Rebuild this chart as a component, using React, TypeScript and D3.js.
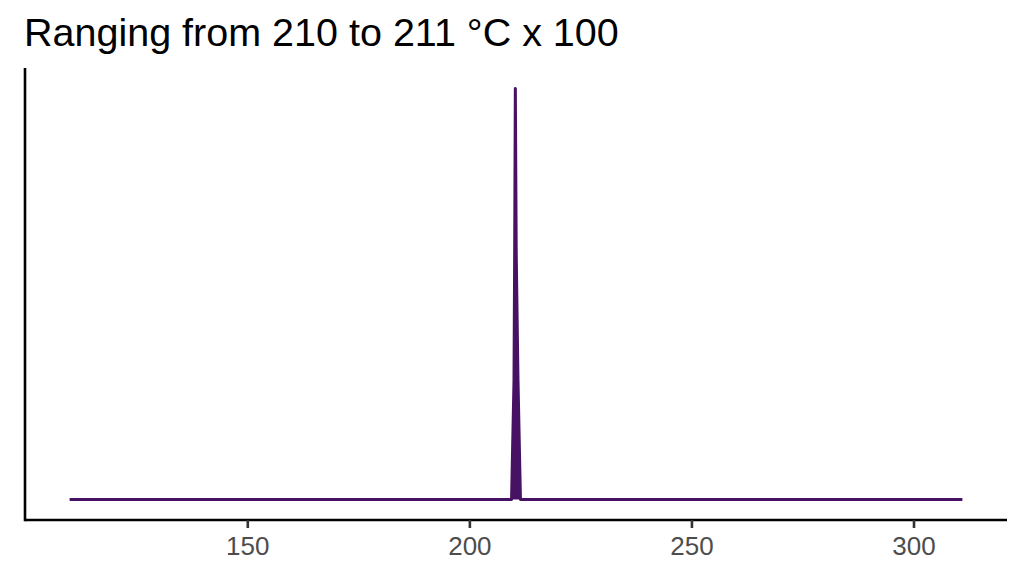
import React, { useEffect, useRef } from "react";
import * as d3 from "d3";

// density curve (x in °C, y relative density)
const densityX: number[] = [110, 209.5, 210.05, 210.2, 210.35, 210.55, 210.95, 211.5, 311];
const densityY: number[] = [0, 0, 0.29, 0.6, 1, 0.6, 0.29, 0, 0];
const xTicks: number[] = [150, 200, 250, 300];
const title = "Ranging from 210 to 211 °C x 100";

const width = 1024,
  height = 576;
const margin = { top: 68, right: 17, bottom: 56, left: 25 };
const lineColor = "#471164";

export default function App(): JSX.Element {
  const ref = useRef<SVGSVGElement>(null);

  useEffect(() => {
    if (!ref.current) return;
    const svg = d3.select(ref.current);
    svg.selectAll("*").remove();

    const panelBottom = height - margin.bottom;
    const panelRight = width - margin.right;

    const ext = d3.extent(densityX) as [number, number];
    const span = ext[1] - ext[0];
    const x = d3
      .scaleLinear()
      .domain([ext[0] - span * 0.05, ext[1] + span * 0.05])
      .range([margin.left, panelRight]);

    const yMax = d3.max(densityY) as number;
    const y = d3
      .scaleLinear()
      .domain([-yMax * 0.05, yMax * 1.05])
      .range([panelBottom, margin.top]);

    svg
      .append("text")
      .attr("x", 24)
      .attr("y", 46)
      .attr("font-family", "Liberation Sans, Arial, sans-serif")
      .attr("font-size", 39.5)
      .attr("fill", "#000")
      .text(title);

    const pts = densityX.map((d, i) => [d, densityY[i]] as [number, number]);

    const area = d3
      .area<[number, number]>()
      .x((d) => x(d[0]))
      .y0(y(0))
      .y1((d) => y(d[1]));
    const line = d3
      .line<[number, number]>()
      .x((d) => x(d[0]))
      .y((d) => y(d[1]));

    svg.append("path").datum(pts).attr("d", area).attr("fill", lineColor);

    svg
      .append("path")
      .datum(pts)
      .attr("d", line)
      .attr("fill", "none")
      .attr("stroke", lineColor)
      .attr("stroke-width", 3)
      .attr("stroke-linejoin", "round")
      .attr("stroke-linecap", "butt");

    // x axis
    const gx = svg
      .append("g")
      .attr("transform", `translate(0,${panelBottom})`)
      .call(d3.axisBottom(x).tickValues(xTicks).tickSize(8).tickPadding(9));
    gx.select(".domain")
      .attr("stroke", "#000")
      .attr("stroke-width", 2.6)
      .attr("d", `M${margin.left},0H${panelRight}`);
    gx.selectAll(".tick line").attr("stroke", "#333").attr("stroke-width", 2.6);
    gx.selectAll(".tick text")
      .attr("fill", "#4d4d4d")
      .attr("font-size", 26)
      .attr("font-family", "Liberation Sans, Arial, sans-serif");

    // y axis line only
    svg
      .append("line")
      .attr("x1", margin.left)
      .attr("x2", margin.left)
      .attr("y1", margin.top)
      .attr("y2", panelBottom + 1.3)
      .attr("stroke", "#000")
      .attr("stroke-width", 2.6);
  }, []);

  return (
    <svg
      ref={ref}
      width={width}
      height={height}
      style={{ position: "absolute", left: 0, top: 0, background: "#fff" }}
    ></svg>
  );
}
